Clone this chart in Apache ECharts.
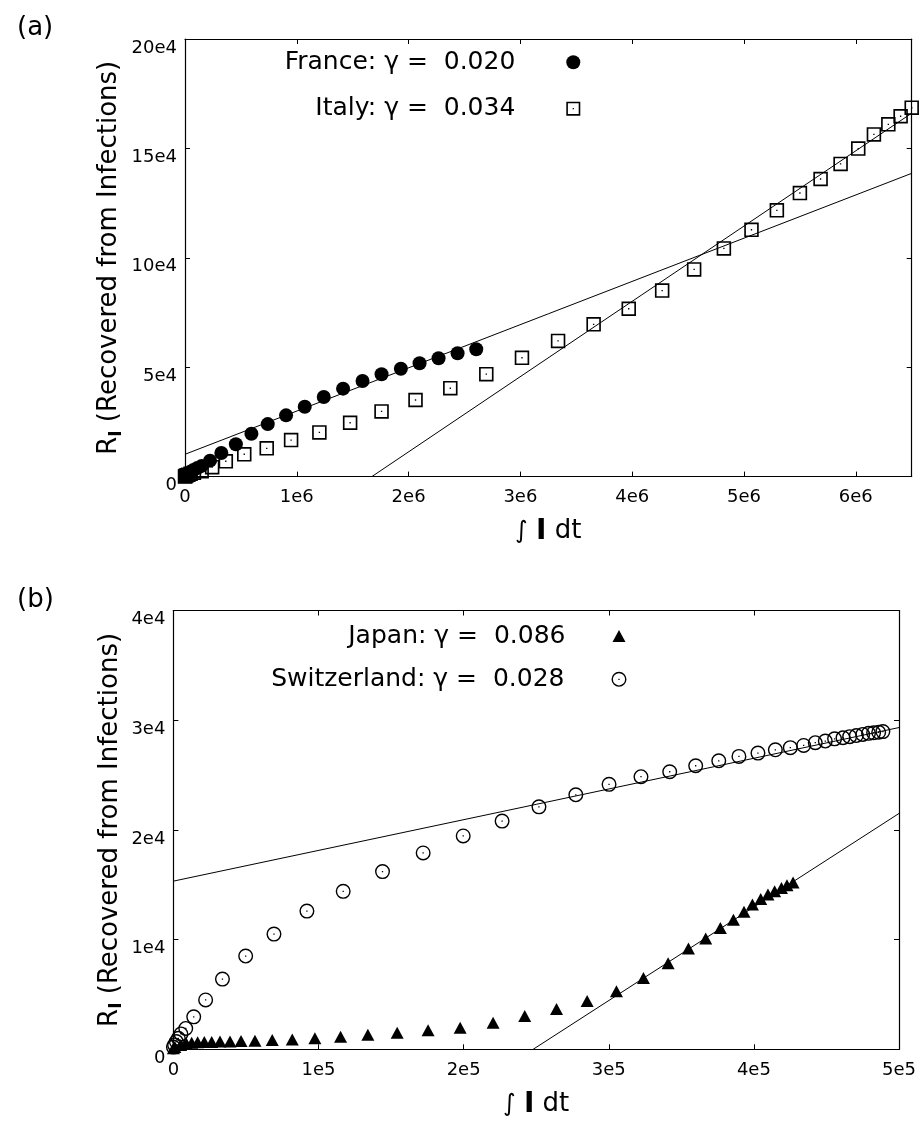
<!DOCTYPE html>
<html><head><meta charset="utf-8">
<script src="https://cdn.jsdelivr.net/npm/echarts@6/dist/echarts.min.js"></script>
<style>html,body{margin:0;padding:0;background:#fff}#c{width:923px;height:1124px}</style>
</head><body><div id="c"></div>
<script>
// ---------- Panel (a) data ----------
const franceName = 'France: \u03b3 =  0.020';
const italyName = 'Italy: \u03b3 =  0.034';
const franceX = [0, 5e3, 12e3, 25e3, 45e3, 75e3, 110e3, 149e3, 224e3, 325e3, 455e3, 594e3, 740e3, 904e3, 1071e3, 1241e3, 1414e3, 1588e3, 1758e3, 1931e3, 2098e3, 2268e3, 2438e3, 2605e3];
const franceY = [200, 500, 900, 1400, 2000, 3000, 3900, 4900, 7300, 10800, 14800, 19600, 24000, 28000, 31900, 36400, 40200, 43700, 46800, 49300, 51800, 54100, 56400, 58200];
const italyX = [0, 5e3, 15e3, 30e3, 50e3, 80e3, 149e3, 243e3, 365e3, 530e3, 731e3, 949e3, 1202e3, 1477e3, 1758e3, 2062e3, 2373e3, 2695e3, 3014e3, 3337e3, 3655e3, 3969e3, 4268e3, 4554e3, 4820e3, 5067e3, 5294e3, 5500e3, 5685e3, 5864e3, 6022e3, 6162e3, 6291e3, 6401e3, 6500e3];
const italyY = [100, 300, 600, 900, 1300, 1800, 2500, 4300, 7000, 10200, 12900, 16700, 20200, 24600, 29800, 35000, 40400, 46800, 54300, 62000, 69600, 76700, 85000, 94700, 104300, 112800, 121700, 129600, 136000, 142900, 149900, 156400, 161000, 164700, 168600];
const franceFit = [[0, 10200], [6.5e6, 138600]];
const italyFit = [[1.671e6, 0], [6.5e6, 166100]];
const xTicksA = ['0', '1e6', '2e6', '3e6', '4e6', '5e6', '6e6'];
const yTicksA = ['0', '5e4', '10e4', '15e4', '20e4'];

// ---------- Panel (b) data ----------
const japanName = 'Japan: \u03b3 =  0.086';
const swissName = 'Switzerland: \u03b3 =  0.028';
const japanX = [0, 1000, 5000, 9000, 12600, 16700, 21300, 26400, 32100, 39000, 46600, 56200, 68100, 81900, 97500, 115200, 134000, 154200, 175500, 197600, 220300, 242100, 264000, 285100, 305300, 323900, 340900, 354900, 366800, 376900, 385900, 393200, 399000, 404700, 409700, 414300, 419000, 422800, 427000];
const japanY = [100, 200, 400, 500, 600, 640, 660, 660, 700, 700, 750, 780, 850, 900, 1000, 1150, 1330, 1510, 1730, 1960, 2420, 3030, 3680, 4400, 5300, 6500, 7850, 9200, 10100, 11050, 11800, 12550, 13200, 13700, 14100, 14400, 14700, 14950, 15200];
const swissX = [0, 800, 2000, 3400, 5200, 8500, 14000, 22200, 33800, 49800, 69300, 92000, 117000, 144100, 172100, 199700, 226500, 251900, 277300, 300200, 322200, 342000, 359900, 375800, 389700, 402800, 414800, 425100, 434300, 442300, 449200, 455600, 461400, 466000, 470600, 475000, 479000, 482500, 486000, 488900];
const swissY = [200, 400, 700, 1000, 1400, 1900, 2960, 4500, 6400, 8500, 10500, 12600, 14400, 16200, 17900, 19450, 20800, 22100, 23200, 24150, 24850, 25300, 25850, 26300, 26700, 27000, 27300, 27500, 27700, 27950, 28100, 28300, 28400, 28500, 28600, 28700, 28800, 28850, 28900, 28960];
const japanFit = [[2.479e5, 0], [5e5, 21500]];
const swissFit = [[0, 15330], [5e5, 29330]];
const xTicksB = ['0', '1e5', '2e5', '3e5', '4e5', '5e5'];
const yTicksB = ['0', '1e4', '2e4', '3e4', '4e4'];

// ---------- styling ----------
const FONT = 'DejaVu Sans';
const W = 923;
const squareDot = 'path://M0,0H14V14H0Z M1.6,1.6V12.4H12.4V1.6Z M6.35,6.35H7.65V7.65H6.35Z';
const ringDot = 'path://M0,7.5A7.5,7.5,0,1,1,15,7.5A7.5,7.5,0,1,1,0,7.5Z M1.4,7.5A6.1,6.1,0,1,0,13.6,7.5A6.1,6.1,0,1,0,1.4,7.5Z M6.85,6.85H8.15V8.15H6.85Z';

const zip = (xs, ys) => xs.map((x, i) => [x, ys[i]]);
const lbl = (arr, step) => v => { const k = v / step; return Number.isInteger(k) && arr[k] !== undefined ? arr[k] : ''; };

const axisLine = { onZero: false, lineStyle: { color: '#000', width: 1.2 } };
const tick = { inside: true, length: 5, lineStyle: { color: '#000', width: 1 } };
const yNameStyle = {
  fontSize: 26, fontFamily: FONT, color: '#000',
  rich: {
    r: { fontSize: 26, fontFamily: FONT, color: '#000' },
    s: { fontSize: 17, fontFamily: FONT, fontWeight: 'bold', color: '#000', padding: [14, 0, 0, 0] },
    t: { fontSize: 26, fontFamily: FONT, color: '#000' }
  }
};
const xNameStyle = {
  fontSize: 26, fontFamily: FONT, color: '#000',
  rich: {
    i: { fontSize: 24, fontFamily: FONT, color: '#000' },
    b: { fontSize: 28, fontFamily: FONT, fontWeight: 'bold', color: '#000' },
    t: { fontSize: 26, fontFamily: FONT, color: '#000' }
  }
};
const yName = '{r|R}{s|I}{t| (Recovered from Infections)}';
const xName = '{i|\u222b} {b|I}{t| dt}';

function xAxes(g, max, interval, ticks, nameGap) {
  return [
    { type: 'value', gridIndex: g, position: 'bottom', min: 0, max, interval,
      axisLine, axisTick: tick, splitLine: { show: false },
      axisLabel: { formatter: lbl(ticks, interval), fontSize: 18, fontFamily: FONT, color: '#000', margin: 12, showMaxLabel: true },
      name: xName, nameLocation: 'middle', nameGap, nameTextStyle: xNameStyle, nameMoveOverlap: false },
    { type: 'value', gridIndex: g, position: 'top', min: 0, max, interval,
      axisLine, axisTick: tick, splitLine: { show: false }, axisLabel: { show: false } }
  ];
}
function yAxes(g, max, interval, ticks, nameGap) {
  return [
    { type: 'value', gridIndex: g, position: 'left', min: 0, max, interval,
      axisLine, axisTick: tick, splitLine: { show: false },
      axisLabel: { formatter: lbl(ticks, interval), fontSize: 18, fontFamily: FONT, color: '#000', margin: 8, verticalAlign: 'top' },
      name: yName, nameLocation: 'middle', nameGap, nameTextStyle: yNameStyle, nameMoveOverlap: false },
    { type: 'value', gridIndex: g, position: 'right', min: 0, max, interval,
      axisLine, axisTick: tick, splitLine: { show: false }, axisLabel: { show: false } }
  ];
}
function legendAt(name, iconCx, iconCy, iw, ih, gap) {
  return {
    data: [name], orient: 'vertical', align: 'right', selectedMode: false,
    right: W - (iconCx + iw / 2), top: iconCy - 14, padding: 0,
    itemWidth: iw, itemHeight: ih,
    textStyle: { fontSize: 25, fontFamily: FONT, color: '#000', lineHeight: 28, padding: [0, gap, 0, 0] }
  };
}
const fitLine = (data, xi, yi) => ({
  type: 'line', data, xAxisIndex: xi, yAxisIndex: yi, symbol: 'none', silent: true,
  lineStyle: { color: '#000', width: 1 }, z: 1
});

const option = {
  backgroundColor: '#fff',
  animation: false,
  title: [
    { text: '(a)', left: 12, top: 10, textStyle: { fontSize: 26, fontWeight: 'normal', fontFamily: FONT, color: '#000' } },
    { text: '(b)', left: 12, top: 582, textStyle: { fontSize: 26, fontWeight: 'normal', fontFamily: FONT, color: '#000' } }
  ],
  grid: [
    { left: 185, top: 39, right: W - 911.7, bottom: 1124 - 476.6, outerBoundsMode: 'none', containLabel: false },
    { left: 173.4, top: 610.5, right: W - 899, bottom: 1124 - 1049.3, outerBoundsMode: 'none', containLabel: false }
  ],
  xAxis: [...xAxes(0, 6.5e6, 1e6, xTicksA, 41), ...xAxes(1, 5e5, 1e5, xTicksB, 41)],
  yAxis: [...yAxes(0, 2e5, 5e4, yTicksA, 60), ...yAxes(1, 4e4, 1e4, yTicksB, 48)],
  legend: [
    legendAt(franceName, 573.3, 62.3, 14, 14, 46),
    legendAt(italyName, 573.3, 108.7, 14, 14, 46),
    legendAt(japanName, 619, 636, 13, 12, 42),
    legendAt(swissName, 619, 679.3, 15, 15, 42)
  ],
  series: [
    fitLine(franceFit, 0, 0),
    fitLine(italyFit, 0, 0),
    { name: franceName, type: 'scatter', xAxisIndex: 0, yAxisIndex: 0, data: zip(franceX, franceY),
      symbol: 'circle', symbolSize: 14, itemStyle: { color: '#000', opacity: 1 }, z: 3 },
    { name: italyName, type: 'scatter', xAxisIndex: 0, yAxisIndex: 0, data: zip(italyX, italyY),
      symbol: squareDot, symbolSize: 14.5, itemStyle: { color: '#000', opacity: 1 }, z: 2 },
    fitLine(japanFit, 2, 2),
    fitLine(swissFit, 2, 2),
    { name: japanName, type: 'scatter', xAxisIndex: 2, yAxisIndex: 2, data: zip(japanX, japanY),
      symbol: 'triangle', symbolSize: [13, 12], itemStyle: { color: '#000', opacity: 1 }, z: 3 },
    { name: swissName, type: 'scatter', xAxisIndex: 2, yAxisIndex: 2, data: zip(swissX, swissY),
      symbol: ringDot, symbolSize: 15, itemStyle: { color: '#000', opacity: 1 }, z: 2 }
  ]
};
const chart = echarts.init(document.getElementById('c'), null, { renderer: 'canvas' });
chart.setOption(option);
</script>
</body></html>
